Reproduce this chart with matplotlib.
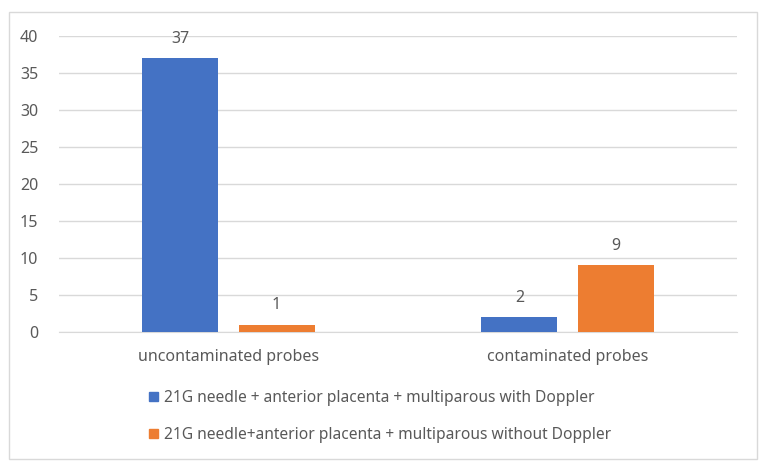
import numpy as np
import matplotlib
matplotlib.use("Agg")
import matplotlib.pyplot as plt
from matplotlib.patches import Rectangle, Patch

categories = ["uncontaminated probes", "contaminated probes"]
series = ["21G needle + anterior placenta + multiparous with Doppler",
          "21G needle+anterior placenta + multiparous without Doppler"]
with_doppler = [37, 2]
without_doppler = [1, 9]
colors = ["#4472C4", "#ED7D31"]

plt.rcParams["font.family"] = ["Noto Sans", "DejaVu Sans"]
TXT = "#595959"
FS = 11.5

fig = plt.figure(figsize=(7.7, 4.7), dpi=100)
fig.patches.append(Rectangle((9 / 770, 1 - 459 / 470), 748 / 770, 447 / 470,
                             transform=fig.transFigure, fill=False,
                             edgecolor="#D9D9D9", lw=1.0))
ax = fig.add_axes([59 / 770, 1 - 332 / 470, 678 / 770, 296 / 470])

x = np.arange(len(categories))
w, off = 0.224, 0.142
for vals, c, dx in [(with_doppler, colors[0], -off), (without_doppler, colors[1], off)]:
    bars = ax.bar(x + dx, vals, w, color=c, zorder=3)
    for b, v in zip(bars, vals):
        ax.text(b.get_x() + b.get_width() / 2, v + 1.55, str(v), ha="center",
                va="bottom", fontsize=FS, color=TXT)

ax.set_xlim(-0.5, 1.5)
ax.set_ylim(0, 40)
ax.set_yticks(range(0, 41, 5))
ax.set_xticks(x, categories)
ax.tick_params(axis="both", length=0, labelsize=FS, labelcolor=TXT)
ax.tick_params(axis="x", pad=12)
ax.tick_params(axis="y", pad=15)
ax.grid(axis="y", color="#D9D9D9", lw=1, zorder=0)
for s in ["top", "right", "left"]:
    ax.spines[s].set_visible(False)
ax.spines["bottom"].set_color("#D9D9D9")

handles = [Patch(color=c) for c in colors]
fig.legend(handles, series, loc="upper left", bbox_to_anchor=(135 / 770, 1 - 376 / 470),
           frameon=False, fontsize=11.2, labelcolor=TXT, handlelength=0.6,
           handleheight=0.6, handletextpad=0.35, labelspacing=1.35)

fig.savefig("out.png", dpi=100, facecolor="white")
